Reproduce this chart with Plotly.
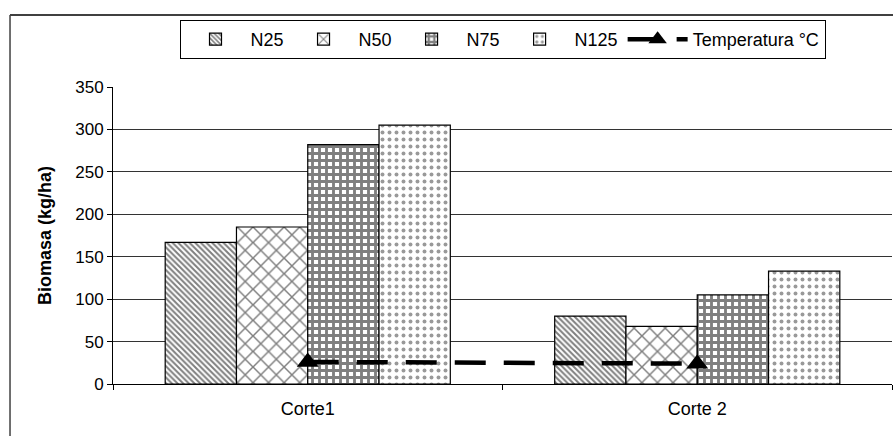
import plotly.graph_objects as go

# Data
categories = ["Corte1", "Corte 2"]
n25 = [167, 80]
n50 = [185, 68]
n75 = [282, 105]
n125 = [305, 133]
temperatura = [26, 24]
y_ticks = [0, 50, 100, 150, 200, 250, 300, 350]

FONT = "Liberation Sans, Arial, sans-serif"

fig = go.Figure()

bar_series = [
    ("N25", n25, dict(shape="\\", size=4, solidity=0.5, fgcolor="black", bgcolor="white")),
    ("N50", n50, dict(shape="x", size=11, solidity=0.25, fgcolor="black", bgcolor="white")),
    ("N75", n75, dict(shape="+", size=7, solidity=0.65, fgcolor="black", bgcolor="white")),
    ("N125", n125, dict(shape=".", size=7, solidity=0.25, fgcolor="#333333", bgcolor="white")),
]

for name, vals, pat in bar_series:
    fig.add_trace(go.Bar(
        name=name, x=categories, y=vals,
        marker=dict(color="white", pattern=pat, line=dict(color="black", width=1.2)),
    ))

fig.add_trace(go.Scatter(
    name="Temperatura °C", x=categories, y=temperatura,
    mode="lines+markers",
    line=dict(color="black", width=4.5, dash="31px,18px"),
    marker=dict(symbol="triangle-up", size=19, color="black"),
))

fig.update_layout(
    width=893, height=436,
    margin=dict(l=113, r=1, t=87, b=52),
    paper_bgcolor="white", plot_bgcolor="white",
    barmode="group", bargap=0.268, bargroupgap=0,
    font=dict(family=FONT, size=17, color="black"),
    showlegend=True,
    legend=dict(
        orientation="h", x=0.5, xanchor="center", y=1.2256, yanchor="top",
        bordercolor="black", borderwidth=1, bgcolor="white",
        font=dict(family=FONT, size=18, color="black"),
        itemwidth=60, traceorder="normal",
    ),
    xaxis=dict(
        showline=True, linecolor="black", linewidth=1,
        ticks="outside", tickson="boundaries", ticklen=5, tickcolor="black",
        tickfont=dict(size=18), showgrid=False, ticklabelstandoff=8,
    ),
    yaxis=dict(
        range=[0, 350], tickvals=y_ticks,
        showline=True, linecolor="black", linewidth=1,
        ticks="outside", ticklen=5, tickcolor="black",
        showgrid=True, gridcolor="#333333", gridwidth=1, zeroline=False,
        tickfont=dict(size=17),
        title=dict(text="<b>Biomasa (kg/ha)</b>", font=dict(size=18), standoff=18),
    ),
    shapes=[
        # chart frame (left and top edges)
        dict(type="line", xref="paper", yref="paper", x0=-0.1322, x1=-0.1322, y0=-0.2, y1=1.2424,
             line=dict(color="#404040", width=1.5)),
        dict(type="line", xref="paper", yref="paper", x0=-0.1322, x1=1.01, y0=1.2424, y1=1.2424,
             line=dict(color="#404040", width=2)),
    ],
)

fig.write_html("out.html")
